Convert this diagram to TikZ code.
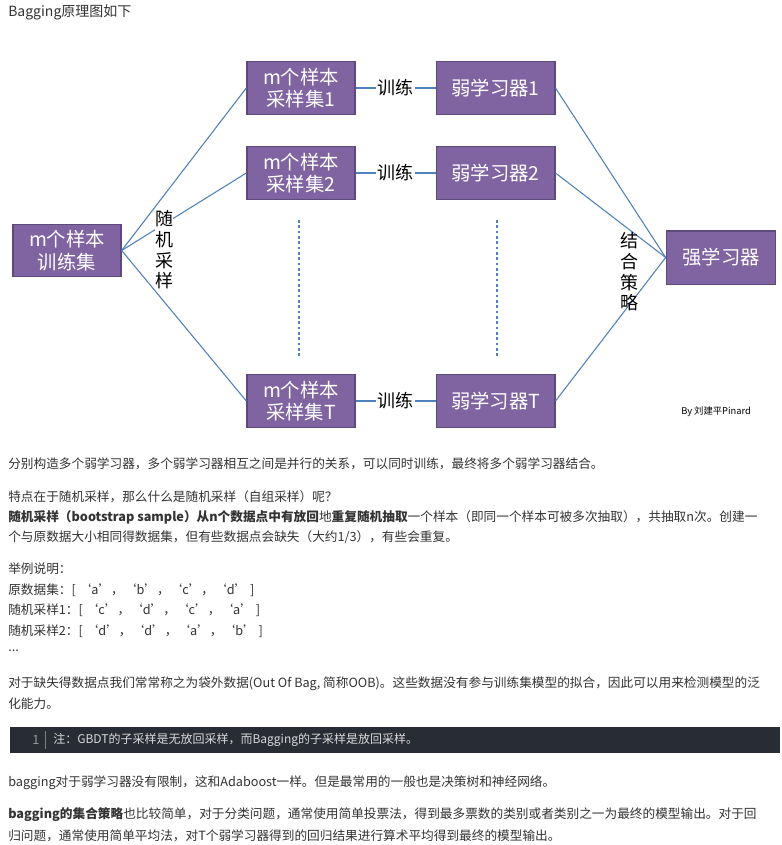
\documentclass[tikz,border=0pt]{standalone}
\usepackage{fontspec}
\setmainfont{Noto Sans CJK SC}
\usetikzlibrary{positioning}
\definecolor{boxfill}{HTML}{8064A2}
\definecolor{boxline}{HTML}{5C4A7A}
\definecolor{wireblue}{HTML}{4F81BD}
\definecolor{txt}{HTML}{333333}
\definecolor{codebg}{HTML}{282C34}
\tikzset{
  box/.style={draw=boxline, line width=1pt, fill=boxfill, text=white, font=\fontsize{14.5pt}{17pt}\selectfont, align=center, inner sep=0pt},
  wire/.style={draw=wireblue, line width=0.8pt},
  para/.style={anchor=west, inner sep=0pt, text=txt, font=\fontsize{9.5pt}{12pt}\selectfont},
  side/.style={font=\fontsize{13.5pt}{15.5pt}\selectfont, align=center, inner sep=0pt}
}
\begin{document}
\begin{tikzpicture}[x=0.75pt,y=-0.75pt]
\useasboundingbox[fill=white] (0,0) rectangle (781,845);
% title line
\node[para, font=\fontsize{10.5pt}{12pt}\selectfont] (title) at (8,12) {Bagging原理图如下};

% the boxes
\node[box, minimum width=81pt, minimum height=39pt] (train) at (67,250.5) {m个样本\\训练集};
\node[box, minimum width=81pt, minimum height=40pt] (s1) at (301,88) {m个样本\\采样集1};
\node[box, minimum width=81pt, minimum height=40pt] (s2) at (301,173) {m个样本\\采样集2};
\node[box, minimum width=81pt, minimum height=40pt] (sT) at (301,401) {m个样本\\采样集T};
\node[box, minimum width=89pt, minimum height=40pt] (w1) at (495.5,88) {弱学习器1};
\node[box, minimum width=89pt, minimum height=40pt] (w2) at (495.5,173) {弱学习器2};
\node[box, minimum width=89pt, minimum height=40pt] (wT) at (495.5,401) {弱学习器T};
\node[box, minimum width=82pt, minimum height=40pt] (strong) at (721,257.5) {强学习器};

% connectors
\foreach \s in {s1,s2,sT} \draw[wire] (train.east) -- (\s.west);
\foreach \s/\w in {s1/w1,s2/w2,sT/wT}
  \draw[wire] (\s.east) -- node[fill=white, inner sep=1pt, font=\fontsize{13.5pt}{15pt}\selectfont] {训练} (\w.west);
\foreach \w in {w1,w2,wT} \draw[wire] (\w.east) -- (strong.west);
\draw[wire, dash pattern=on 2pt off 2pt] (299,220) -- (299,356);
\draw[wire, dash pattern=on 2pt off 2pt] (497,220) -- (497,356);

\node[side, fill=white] (rand) at (164,250) {随\\机\\采\\样};
\node[side] (comb) at (629,272) {结\\合\\策\\略};
\node[anchor=west, inner sep=0pt, font=\fontsize{7pt}{8pt}\selectfont] (author) at (681,412) {By 刘建平Pinard};

% article text
\node[para] (p1) at (8,464) {分别构造多个弱学习器，多个弱学习器相互之间是并行的关系，可以同时训练，最终将多个弱学习器结合。};
\node[para] (p2) at (8,497) {特点在于随机采样，那么什么是随机采样（自组采样）呢？};
\node[para] (p3) at (8,517) {\textbf{随机采样（bootstrap sample）从n个数据点中有放回}地\textbf{重复随机抽取}一个样本（即同一个样本可被多次抽取），共抽取n次。创建一};
\node[para] (p4) at (8,537) {个与原数据大小相同得数据集，但有些数据点会缺失（大约1/3），有些会重复。};
\node[para] (p5) at (8,569) {举例说明：};
\node[para] (p6) at (8,590) {原数据集：[ ‘a’，‘b’，‘c’，‘d’ ]};
\node[para] (p7) at (8,610) {随机采样1：[ ‘c’，‘d’，‘c’，‘a’ ]};
\node[para] (p8) at (8,631) {随机采样2：[ ‘d’，‘d’，‘a’，‘b’ ]};
\node[para] (p9) at (8,651) {...};
\node[para] (p10) at (8,684) {对于缺失得数据点我们常常称之为袋外数据(Out Of Bag, 简称OOB)。这些数据没有参与训练集模型的拟合，因此可以用来检测模型的泛};
\node[para] (p11) at (8,704) {化能力。};

% code block
\fill[codebg] (10,727) rectangle (780,753);
\draw[gray, line width=0.6pt] (45,731) -- (45,749);
\node[para, text=gray!80] (ln) at (32,740) {1};
\node[para, text=white!85!black, font=\fontsize{9pt}{11pt}\selectfont] (code) at (53,740) {注：GBDT的子采样是无放回采样，而Bagging的子采样是放回采样。};

\node[para] (p12) at (8,783) {bagging对于弱学习器没有限制，这和Adaboost一样。但是最常用的一般也是决策树和神经网络。};
\node[para] (p13) at (8,815) {\textbf{bagging的集合策略}也比较简单，对于分类问题，通常使用简单投票法，得到最多票数的类别或者类别之一为最终的模型输出。对于回};
\node[para] (p14) at (8,836) {归问题，通常使用简单平均法，对T个弱学习器得到的回归结果进行算术平均得到最终的模型输出。};
\end{tikzpicture}
\end{document}
